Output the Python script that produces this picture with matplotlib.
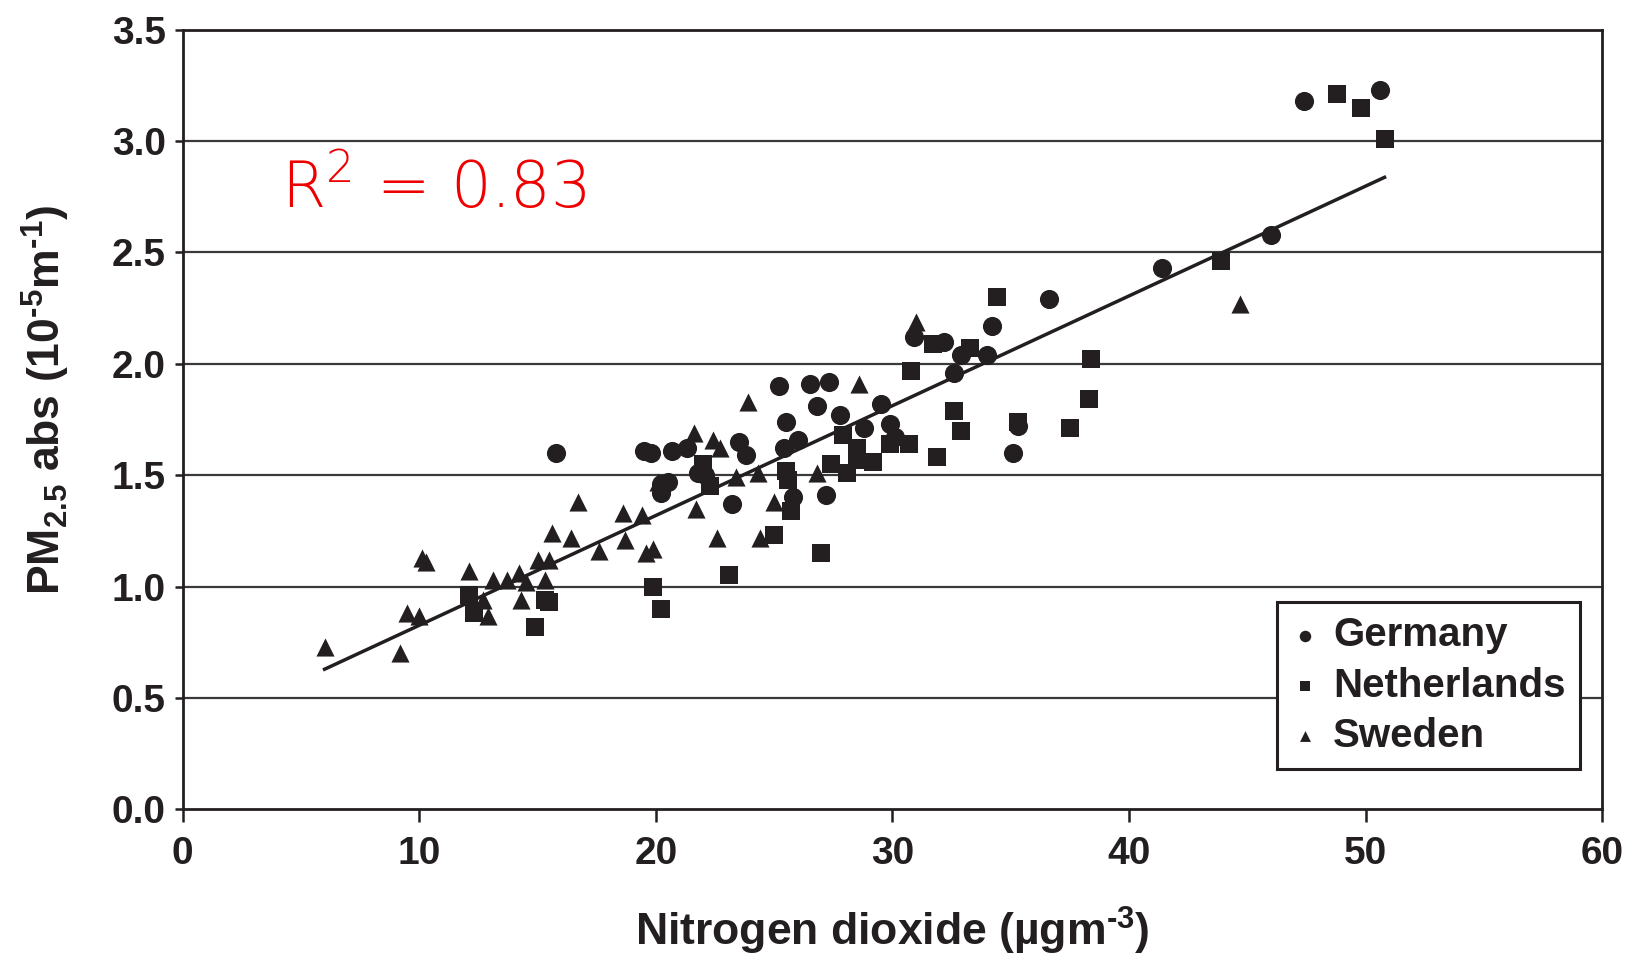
import matplotlib
matplotlib.use("Agg")
import matplotlib.pyplot as plt
import numpy as np

# NO2 (ug/m3) vs PM2.5 absorbance per country
germany_x = [15.8, 19.5, 19.8, 20.2, 20.5, 20.2, 20.7, 21.3, 22.1, 21.8, 23.2, 23.5, 23.8,
             25.2, 25.5, 25.4, 25.8, 26.0, 26.5, 26.8, 27.3, 27.2, 27.8, 28.8, 29.5, 29.9,
             30.1, 30.9, 32.2, 32.6, 32.9, 34.0, 34.2, 35.1, 35.3, 36.6, 41.4, 46.0, 47.4, 50.6]
germany_y = [1.60, 1.61, 1.60, 1.46, 1.47, 1.42, 1.61, 1.62, 1.50, 1.51, 1.37, 1.65, 1.59,
             1.90, 1.74, 1.62, 1.40, 1.66, 1.91, 1.81, 1.92, 1.41, 1.77, 1.71, 1.82, 1.73,
             1.67, 2.12, 2.10, 1.96, 2.04, 2.04, 2.17, 1.60, 1.72, 2.29, 2.43, 2.58, 3.18, 3.23]

netherlands_x = [12.1, 12.3, 14.9, 15.3, 15.5, 19.9, 20.2, 22.0, 22.3, 23.1, 25.0, 25.5,
                 25.6, 25.7, 27.0, 27.4, 27.9, 28.1, 28.5, 28.5, 29.2, 29.9, 30.7, 30.8,
                 31.7, 31.9, 32.6, 32.9, 33.3, 34.4, 35.3, 37.5, 38.3, 38.4, 43.9, 48.8,
                 49.8, 50.8]
netherlands_y = [0.96, 0.88, 0.82, 0.94, 0.93, 1.00, 0.90, 1.55, 1.45, 1.05, 1.23, 1.52,
                 1.48, 1.34, 1.15, 1.55, 1.68, 1.51, 1.62, 1.57, 1.56, 1.64, 1.64, 1.97,
                 2.09, 1.58, 1.79, 1.70, 2.07, 2.30, 1.74, 1.71, 1.84, 2.02, 2.46, 3.21,
                 3.15, 3.01]

sweden_x = [6.0, 9.2, 9.5, 10.0, 10.1, 10.3, 12.1, 12.7, 12.9, 13.1, 13.7, 14.2, 14.3,
            14.5, 15.0, 15.3, 15.5, 15.6, 16.4, 16.7, 17.6, 18.6, 18.7, 19.4, 19.6, 19.9,
            20.1, 21.6, 21.7, 22.4, 22.6, 22.7, 23.4, 23.9, 24.3, 24.4, 25.0, 26.8, 28.6,
            31.0, 44.7]
sweden_y = [0.73, 0.70, 0.88, 0.87, 1.13, 1.11, 1.07, 0.94, 0.87, 1.03, 1.03, 1.06, 0.94,
            1.02, 1.12, 1.03, 1.12, 1.24, 1.22, 1.38, 1.16, 1.33, 1.21, 1.32, 1.15, 1.17,
            1.47, 1.69, 1.35, 1.66, 1.22, 1.62, 1.49, 1.83, 1.51, 1.22, 1.38, 1.51, 1.91,
            2.19, 2.27]

# regression line over all sites
fit_slope = 0.0493
fit_intercept = 0.333
fit_range = [6.0, 50.8]
r_squared = 0.83

plt.rcParams['font.family'] = ['Liberation Sans', 'DejaVu Sans']
plt.rcParams['mathtext.default'] = 'regular'

ink = '#231f20'

fig = plt.figure(figsize=(16.45, 9.6), dpi=100)
ax = fig.add_axes([0.111, 0.157, 0.863, 0.812])

for yv in np.arange(0.5, 3.5, 0.5):
    ax.axhline(yv, color='#3a3a3a', lw=1.6, zorder=1)

ax.scatter(germany_x, germany_y, marker='o', s=190, color=ink, lw=0, zorder=3, label='Germany')
ax.scatter(netherlands_x, netherlands_y, marker='s', s=150, color=ink, lw=0, zorder=3, label='Netherlands')
ax.scatter(sweden_x, sweden_y, marker='^', s=170, color=ink, lw=0, zorder=3, label='Sweden')

fx = np.array(fit_range)
ax.plot(fx, fit_slope * fx + fit_intercept, color=ink, lw=2.5, zorder=2)

ax.text(4.15, 2.70, f'R$^2$ = {r_squared:.2f}', color='#ee0000', fontsize=46,
        family=['DejaVu Sans'], fontweight='light')

ax.set_xlim(0, 60)
ax.set_ylim(0, 3.5)
ax.set_xticks(range(0, 61, 10))
ax.set_yticks(np.arange(0, 3.51, 0.5))
ax.set_yticklabels([f'{v:.1f}' for v in np.arange(0, 3.51, 0.5)])

for sp in ax.spines.values():
    sp.set_linewidth(2)
    sp.set_color(ink)

ax.tick_params(axis='both', direction='out', length=9, width=1.8, color=ink,
               labelsize=28, labelcolor=ink)
ax.tick_params(axis='x', pad=10)
ax.tick_params(axis='y', length=6, pad=6)
for lbl in ax.get_xticklabels() + ax.get_yticklabels():
    lbl.set_fontweight('bold')

ax.set_xlabel('Nitrogen dioxide (µgm$^{\u2010 3}$)', fontsize=32, fontweight='bold',
              color=ink, labelpad=24)
ax.set_ylabel('PM$_{2.5}$ abs (10$^{\u20105}$m$^{\u20101}$)', fontsize=32, fontweight='bold',
              color=ink)
ax.yaxis.set_label_coords(-0.078, 0.525)

leg = ax.legend(loc='lower right', bbox_to_anchor=(0.984, 0.052), borderaxespad=0,
                frameon=True, fancybox=False, edgecolor=ink, markerscale=0.6,
                handletextpad=0.35, borderpad=0.35, labelspacing=0.3, handlelength=0.7,
                framealpha=1,
                prop={'family': ['Liberation Sans', 'DejaVu Sans'], 'weight': 'bold', 'size': 29})
leg.get_frame().set_linewidth(2.2)
for t in leg.get_texts():
    t.set_color(ink)

fig.savefig('out.png', dpi=100)
